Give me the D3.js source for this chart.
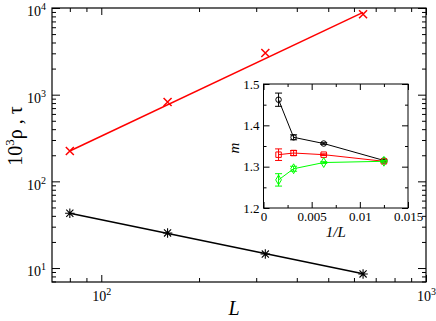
<!DOCTYPE html>
<html>
<head>
<meta charset="utf-8">
<script src="https://cdn.jsdelivr.net/npm/d3@7"></script>
<style>
  body { margin: 0; background: #fff; }
  text { font-family: "Liberation Serif", "Times New Roman", serif; fill: #000; }
</style>
</head>
<body>
<div id="chart"></div>
<script>
// main plot data
const sizes = [80, 160, 320, 640];
const tauVals = [224, 824, 3030, 8460];
const rhoVals = [42.9, 25.4, 14.5, 8.55];

// power-law fit lines (end points)
const fitSizes = [80, 640];
const tauFit = [224, 8900];
const rhoFit = [42.9, 8.6];

// inset data (m vs 1/L)
const invL = [0.0015625, 0.003125, 0.00625, 0.0125];
const mBlack = [1.462, 1.371, 1.356, 1.315];
const errBlack = [0.016, 0.006, 0.002, 0.002];
const mRed = [1.329, 1.333, 1.329, 1.313];
const errRed = [0.014, 0.006, 0.002, 0.002];
const mGreen = [1.268, 1.295, 1.310, 1.313];
const errGreen = [0.015, 0.006, 0.002, 0.002];

const xMajor = [100, 1000];
const xMinor = [80, 90, 200, 300, 400, 500, 600, 700, 800, 900];
const yMajor = [10, 100, 1000, 10000];
const yMinor = [7, 8, 9, 20, 30, 40, 50, 60, 70, 80, 90, 200, 300, 400, 500, 600, 700, 800, 900,
                2000, 3000, 4000, 5000, 6000, 7000, 8000, 9000];
const insetXTicks = [0, 0.005, 0.01, 0.015];
const insetYTicks = [1.2, 1.3, 1.4, 1.5];

const W = 436, H = 321;
const margin = { top: 8, right: 10, bottom: 39, left: 52 };
const width = W - margin.left - margin.right;
const height = H - margin.top - margin.bottom;

const svg = d3.select('#chart').append('svg')
  .attr('width', W).attr('height', H);

const g = svg.append('g')
  .attr('transform', `translate(${margin.left},${margin.top})`);

const x = d3.scaleLog().domain([70.5, 1000]).range([0, width]);
const y = d3.scaleLog().domain([6.9, 10000]).range([height, 0]);

// superscript labels like 10^2
function powLabel(sel) {
  sel.each(function(d) {
    const t = d3.select(this).text(null);
    t.append('tspan').text('10');
    t.append('tspan').attr('dy', -6).attr('font-size', '10px').text(Math.round(Math.log10(d)));
  });
}

// minor ticks first
g.append('g').attr('transform', `translate(0,${height})`)
  .call(d3.axisBottom(x).tickValues(xMinor).tickSizeInner(-4).tickSizeOuter(0).tickFormat(''));
g.append('g')
  .call(d3.axisTop(x).tickValues(xMinor).tickSizeInner(-4).tickSizeOuter(0).tickFormat(''));
g.append('g')
  .call(d3.axisLeft(y).tickValues(yMinor).tickSizeInner(-4).tickSizeOuter(0).tickFormat(''));
g.append('g').attr('transform', `translate(${width},0)`)
  .call(d3.axisRight(y).tickValues(yMinor).tickSizeInner(-4).tickSizeOuter(0).tickFormat(''));

// major ticks
const xAx = g.append('g').attr('transform', `translate(0,${height})`)
  .call(d3.axisBottom(x).tickValues(xMajor).tickSizeInner(-7).tickSizeOuter(0).tickPadding(9));
xAx.selectAll('.tick text').attr('font-size', '14px').call(powLabel);
g.append('g')
  .call(d3.axisTop(x).tickValues(xMajor).tickSizeInner(-7).tickSizeOuter(0).tickFormat(''));

const yAx = g.append('g')
  .call(d3.axisLeft(y).tickValues(yMajor).tickSizeInner(-8).tickSizeOuter(0).tickPadding(6));
yAx.selectAll('.tick text').attr('font-size', '14px').attr('dy', '0.55em').call(powLabel);
g.append('g').attr('transform', `translate(${width},0)`)
  .call(d3.axisRight(y).tickValues(yMajor).tickSizeInner(-8).tickSizeOuter(0).tickFormat(''));

g.selectAll('.domain').remove();
g.selectAll('.tick line').attr('stroke', '#000');

g.append('rect')
  .attr('width', width).attr('height', height)
  .attr('fill', 'none').attr('stroke', '#000').attr('stroke-width', 1.2);

// axis titles
svg.append('text')
  .attr('x', margin.left + width / 2 - 5).attr('y', 315)
  .attr('text-anchor', 'middle')
  .attr('font-size', '20px').attr('font-style', 'italic')
  .text('L');

const yt = svg.append('text')
  .attr('transform', 'translate(22,136) rotate(-90)')
  .attr('text-anchor', 'middle')
  .attr('font-size', '20px');
yt.append('tspan').text('10');
yt.append('tspan').attr('dy', -8).attr('font-size', '13px').text('3');
yt.append('tspan').attr('dy', 8).text('ρ , τ');

// main series
const tauData = sizes.map((s, i) => ({ s, v: tauVals[i] }));
const rhoData = sizes.map((s, i) => ({ s, v: rhoVals[i] }));
const tauFitData = fitSizes.map((s, i) => ({ s, v: tauFit[i] }));
const rhoFitData = fitSizes.map((s, i) => ({ s, v: rhoFit[i] }));

const line = d3.line().x(d => x(d.s)).y(d => y(d.v));

g.append('path').datum(tauFitData)
  .attr('fill', 'none').attr('stroke', '#ff0000').attr('stroke-width', 1.5)
  .attr('d', line);
g.append('path').datum(rhoFitData)
  .attr('fill', 'none').attr('stroke', '#000').attr('stroke-width', 1.5)
  .attr('d', line);

const crossSym = {
  draw(ctx, size) {
    const r = Math.sqrt(size) / 2;
    ctx.moveTo(-r, -r); ctx.lineTo(r, r);
    ctx.moveTo(-r, r); ctx.lineTo(r, -r);
  }
};
const starSym = {
  draw(ctx, size) {
    const r = Math.sqrt(size) / 2;
    const d = r * 0.75;
    ctx.moveTo(-r, 0); ctx.lineTo(r, 0);
    ctx.moveTo(0, -r); ctx.lineTo(0, r);
    ctx.moveTo(-d, -d); ctx.lineTo(d, d);
    ctx.moveTo(-d, d); ctx.lineTo(d, -d);
  }
};

g.selectAll('.tau-pt').data(tauData).enter().append('path')
  .attr('class', 'tau-pt')
  .attr('transform', d => `translate(${x(d.s)},${y(d.v)})`)
  .attr('d', d3.symbol().type(crossSym).size(64))
  .attr('fill', 'none').attr('stroke', '#ff0000').attr('stroke-width', 1.5);

g.selectAll('.rho-pt').data(rhoData).enter().append('path')
  .attr('class', 'rho-pt')
  .attr('transform', d => `translate(${x(d.s)},${y(d.v)})`)
  .attr('d', d3.symbol().type(starSym).size(90))
  .attr('fill', 'none').attr('stroke', '#000').attr('stroke-width', 1.1);

// ---- inset ----
const inset = { left: 263.5, top: 84, width: 144.5, height: 124 };
const ig = svg.append('g').attr('transform', `translate(${inset.left},${inset.top})`);

const ix = d3.scaleLinear().domain([0, 0.015]).range([0, inset.width]);
const iy = d3.scaleLinear().domain([1.2, 1.5]).range([inset.height, 0]);

ig.append('rect').attr('width', inset.width).attr('height', inset.height).attr('fill', '#fff');

const ixMinor = [0.0025, 0.0075, 0.0125];
const iyMinor = [1.25, 1.35, 1.45];

ig.append('g').attr('transform', `translate(0,${inset.height})`)
  .call(d3.axisBottom(ix).tickValues(ixMinor).tickSizeInner(-3).tickSizeOuter(0).tickFormat(''));
ig.append('g')
  .call(d3.axisTop(ix).tickValues(ixMinor).tickSizeInner(-3).tickSizeOuter(0).tickFormat(''));
ig.append('g')
  .call(d3.axisLeft(iy).tickValues(iyMinor).tickSizeInner(-3).tickSizeOuter(0).tickFormat(''));
ig.append('g').attr('transform', `translate(${inset.width},0)`)
  .call(d3.axisRight(iy).tickValues(iyMinor).tickSizeInner(-3).tickSizeOuter(0).tickFormat(''));

const ixAx = ig.append('g').attr('transform', `translate(0,${inset.height})`)
  .call(d3.axisBottom(ix).tickValues(insetXTicks).tickSizeInner(-6).tickSizeOuter(0).tickPadding(4)
    .tickFormat(d => d === 0 ? '0' : d3.format('')(d)));
ixAx.selectAll('.tick text').attr('font-size', '13px');
ig.append('g')
  .call(d3.axisTop(ix).tickValues(insetXTicks).tickSizeInner(-6).tickSizeOuter(0).tickFormat(''));
const iyAx = ig.append('g')
  .call(d3.axisLeft(iy).tickValues(insetYTicks).tickSizeInner(-6).tickSizeOuter(0).tickPadding(4)
    .tickFormat(d3.format('.1f')));
iyAx.selectAll('.tick text').attr('font-size', '13px');
ig.append('g').attr('transform', `translate(${inset.width},0)`)
  .call(d3.axisRight(iy).tickValues(insetYTicks).tickSizeInner(-6).tickSizeOuter(0).tickFormat(''));

ig.selectAll('.domain').remove();
ig.selectAll('.tick line').attr('stroke', '#000');
ig.append('rect').attr('width', inset.width).attr('height', inset.height)
  .attr('fill', 'none').attr('stroke', '#000').attr('stroke-width', 1);

svg.append('text')
  .attr('transform', `translate(${inset.left - 25},${inset.top + inset.height / 2 + 2}) rotate(-90)`)
  .attr('text-anchor', 'middle').attr('font-size', '15px').attr('font-style', 'italic')
  .text('m');
svg.append('text')
  .attr('x', inset.left + inset.width / 2).attr('y', 237)
  .attr('text-anchor', 'middle').attr('font-size', '15px').attr('font-style', 'italic')
  .text('1/L');

const series = [
  { vals: mBlack, errs: errBlack, color: '#000', sym: d3.symbolCircle, size: 24 },
  { vals: mRed, errs: errRed, color: '#ff0000', sym: d3.symbolSquare, size: 30 },
  { vals: mGreen, errs: errGreen, color: '#00ff00', sym: d3.symbolDiamond, size: 28 }
];

const iline = d3.line().x(d => ix(d.x)).y(d => iy(d.m));

series.forEach(s => {
  const pts = invL.map((v, i) => ({ x: v, m: s.vals[i], e: s.errs[i] }));
  ig.append('path').datum(pts)
    .attr('fill', 'none').attr('stroke', s.color).attr('stroke-width', 1)
    .attr('d', iline);
  const eb = ig.append('g');
  pts.forEach(p => {
    const cx = ix(p.x), y0 = iy(p.m - p.e), y1 = iy(p.m + p.e);
    eb.append('path')
      .attr('d', `M${cx},${y0}V${y1}M${cx - 3.5},${y0}H${cx + 3.5}M${cx - 3.5},${y1}H${cx + 3.5}`)
      .attr('stroke', s.color).attr('stroke-width', 1).attr('fill', 'none');
  });
  ig.selectAll(null).data(pts).enter().append('path')
    .attr('transform', d => `translate(${ix(d.x)},${iy(d.m)})`)
    .attr('d', d3.symbol().type(s.sym).size(s.size))
    .attr('fill', 'none').attr('stroke', s.color).attr('stroke-width', 1);
});
</script>
</body>
</html>
